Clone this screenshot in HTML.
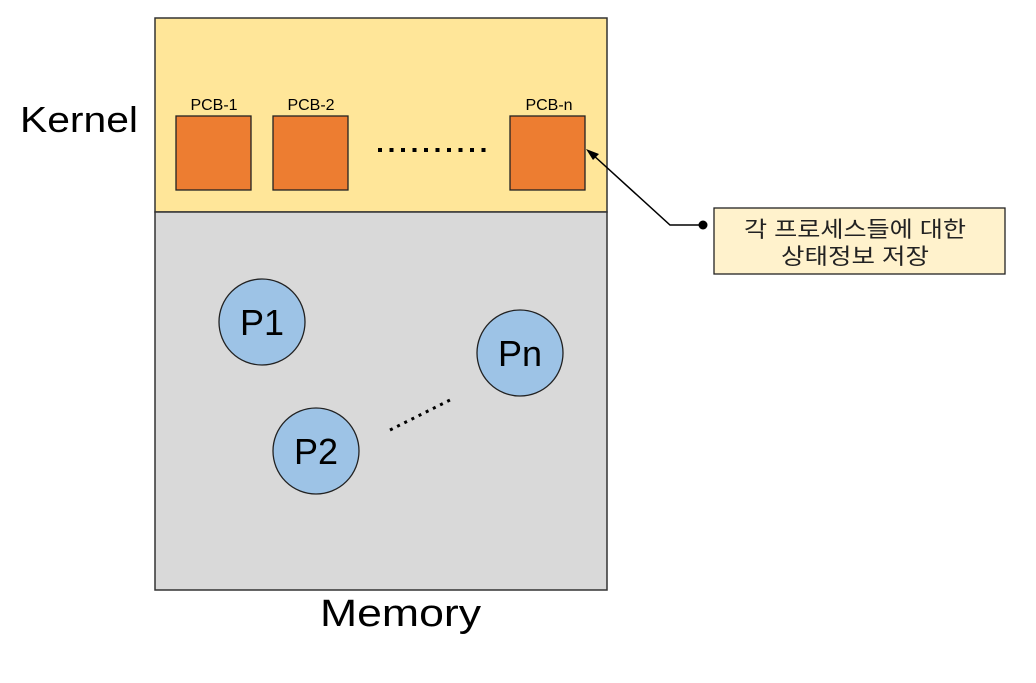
<!DOCTYPE html>
<html><head><meta charset="utf-8"><style>
body{margin:0;background:#fff;}
</style></head><body>
<svg width="1036" height="678" xmlns="http://www.w3.org/2000/svg" font-family="Liberation Sans, Noto Sans CJK KR, sans-serif">
<rect x="155" y="18" width="452" height="194" fill="#ffe699" stroke="#333" stroke-width="1.5"/>
<rect x="155" y="212" width="452" height="378" fill="#d9d9d9" stroke="#333" stroke-width="1.5"/>
<text x="20" y="132" font-size="36" fill="#000" textLength="118" lengthAdjust="spacingAndGlyphs">Kernel</text>
<text x="320" y="626" font-size="38" fill="#000" textLength="161" lengthAdjust="spacingAndGlyphs">Memory</text>
<g fill="#ed7d31" stroke="#222" stroke-width="1.3">
<rect x="176" y="116" width="75" height="74"/>
<rect x="273" y="116" width="75" height="74"/>
<rect x="510" y="116" width="75" height="74"/>
</g>
<g font-size="16" fill="#000" text-anchor="middle">
<text x="214" y="110">PCB-1</text>
<text x="311" y="110">PCB-2</text>
<text x="549" y="110">PCB-n</text>
</g>
<line x1="378" y1="150" x2="492" y2="150" stroke="#000" stroke-width="4" stroke-dasharray="4,7.5"/>
<g fill="#9dc3e6" stroke="#222" stroke-width="1.3">
<circle cx="262" cy="322" r="43"/>
<circle cx="520" cy="353" r="43"/>
<circle cx="316" cy="451" r="43"/>
</g>
<g font-size="36" fill="#000" text-anchor="middle">
<text x="262" y="335">P1</text>
<text x="520" y="366">Pn</text>
<text x="316" y="464">P2</text>
</g>
<line x1="390" y1="430" x2="452" y2="399" stroke="#000" stroke-width="3" stroke-dasharray="3,5"/>
<rect x="714" y="208" width="291" height="66" fill="#fff2cc" stroke="#222" stroke-width="1.3"/>
<g font-size="22" fill="#222" text-anchor="middle">
<text x="855" y="237" textLength="222" lengthAdjust="spacingAndGlyphs">각 프로세스들에 대한</text>
<text x="855" y="264" textLength="148" lengthAdjust="spacingAndGlyphs">상태정보 저장</text>
</g>
<polyline points="703,225 670,225 592,154" fill="none" stroke="#000" stroke-width="1.5"/>
<circle cx="703" cy="225" r="4.5" fill="#000"/>
<polygon points="586,149 599,154 593,160" fill="#000"/>
</svg>
</body></html>
